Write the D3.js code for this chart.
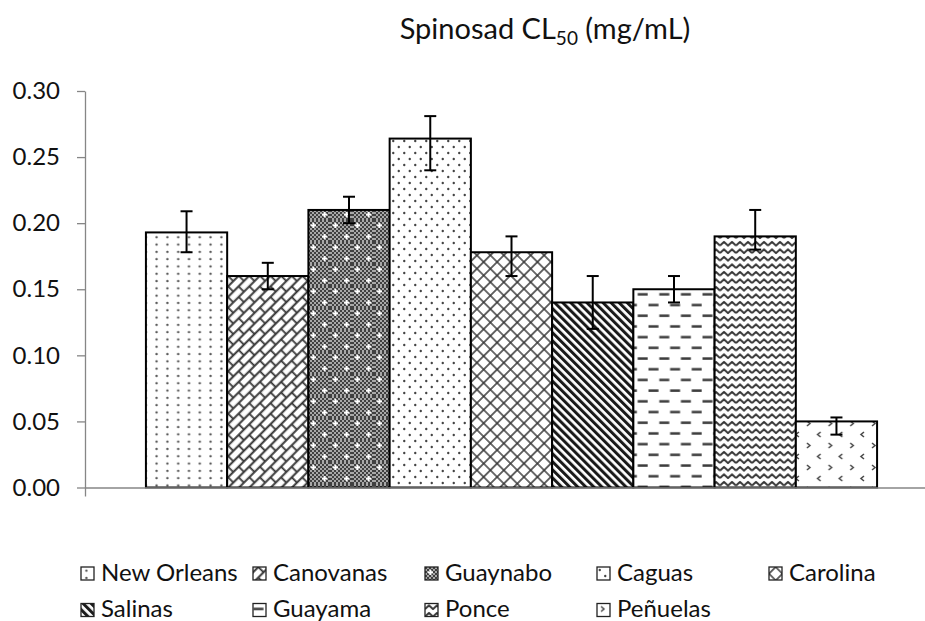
<!DOCTYPE html>
<html lang="en">
<head>
   <meta charset="utf-8">
   <script src="https://cdnjs.cloudflare.com/ajax/libs/d3/7.8.5/d3.min.js"></script>
   <title>Spinosad CL50</title>
   <style>
      body { margin: 0; background: #fff; }
      svg { display: block; font-family: Lato, "Open Sans", sans-serif; }
   </style>
</head>
<body>
   <div id="chart"></div>

   <script type="text/javascript">

      // Values
      var cities = ["New Orleans", "Canovanas", "Guaynabo", "Caguas", "Carolina", "Salinas", "Guayama", "Ponce", "Peñuelas"];
      var lc50 = [0.193, 0.160, 0.210, 0.264, 0.178, 0.140, 0.150, 0.190, 0.050];
      var errPlus = [0.016, 0.010, 0.010, 0.017, 0.012, 0.020, 0.010, 0.020, 0.003];
      var errMinus = [0.015, 0.010, 0.010, 0.024, 0.018, 0.020, 0.010, 0.010, 0.010];
      var yTicks = [0, 0.05, 0.10, 0.15, 0.20, 0.25, 0.30];

      // Fill pattern per city (style only)
      var patternIds = ["pNewOrleans", "pCanovanas", "pGuaynabo", "pCaguas", "pCarolina", "pSalinas", "pGuayama", "pPonce", "pPenuelas"];

      var width = 925, height = 621;
      var plot = { left: 85, right: 938, top: 91, bottom: 487.5 };
      var ink = "#363636";
      var axisGrey = "#868686";

      var svg = d3.select("#chart")
         .append("svg")
         .attr("width", width)
         .attr("height", height);

      var defs = svg.append("defs");

      // Helper to start a pattern tile with a background
      function makePattern(id, w, h, transform, bg) {
         var p = defs.append("pattern")
            .attr("id", id)
            .attr("patternUnits", "userSpaceOnUse")
            .attr("width", w)
            .attr("height", h);
         if (transform) p.attr("patternTransform", transform);
         p.append("rect").attr("width", w).attr("height", h).attr("fill", bg || "#fff");
         return p;
      }

      // New Orleans - sparse dots
      var p = makePattern("pNewOrleans", 10.8, 7.3);
      p.append("circle").attr("cx", 5.4).attr("cy", 3.6).attr("r", 1.2).attr("fill", "#555");

      // Canovanas - diagonal brick
      p = makePattern("pCanovanas", 15, 15, "rotate(-45)");
      p.append("path")
         .attr("d", "M0,3.75H15M0,11.25H15M3.75,3.75V11.25M11.25,11.25V15M11.25,0V3.75")
         .attr("stroke", ink).attr("stroke-width", 1.8).attr("fill", "none");

      // Guaynabo - dark checker with white crosses
      p = makePattern("pChecker", 4, 4, null, "#a8a8a8");
      p.append("rect").attr("width", 2).attr("height", 2).attr("fill", "#404040");
      p.append("rect").attr("x", 2).attr("y", 2).attr("width", 2).attr("height", 2).attr("fill", "#404040");
      p = makePattern("pGuaynabo", 22, 22, null, "url(#pChecker)");
      [[5.5, 5.5], [16.5, 16.5]].forEach(function (c) {
         p.append("rect").attr("x", c[0] - 2.5).attr("y", c[1] - 0.9).attr("width", 5).attr("height", 1.8).attr("fill", "#fff");
         p.append("rect").attr("x", c[0] - 0.9).attr("y", c[1] - 2.5).attr("width", 1.8).attr("height", 5).attr("fill", "#fff");
      });

      // Caguas - denser offset dots
      p = makePattern("pCaguas", 11, 12);
      p.append("circle").attr("cx", 2.75).attr("cy", 3).attr("r", 1.2).attr("fill", "#444");
      p.append("circle").attr("cx", 8.25).attr("cy", 9).attr("r", 1.2).attr("fill", "#444");

      // Carolina - diagonal cross hatch
      p = makePattern("pCarolina", 9.5, 9.5, "rotate(45)");
      p.append("path").attr("d", "M0,4.75H9.5M4.75,0V9.5")
         .attr("stroke", ink).attr("stroke-width", 1.5).attr("fill", "none");

      // Salinas - wide downward diagonal
      p = makePattern("pSalinas", 5.7, 10, "rotate(-45)");
      p.append("rect").attr("width", 3).attr("height", 10).attr("fill", "#1a1a1a");

      // Guayama - dashed horizontal
      p = makePattern("pGuayama", 21.6, 21.4);
      p.append("rect").attr("x", 0.5).attr("y", 4.2).attr("width", 10).attr("height", 2.5).attr("fill", "#3c3c3c");
      p.append("rect").attr("x", 11.3).attr("y", 14.9).attr("width", 10).attr("height", 2.5).attr("fill", "#3c3c3c");

      // Ponce - zigzag waves
      p = makePattern("pPonce", 16, 7.5);
      p.append("path").attr("d", "M0,5.6L4,1.9L8,5.6L12,1.9L16,5.6")
         .attr("stroke", ink).attr("stroke-width", 2).attr("fill", "none").attr("stroke-linejoin", "round");

      // Peñuelas - divots
      p = makePattern("pPenuelas", 21.7, 22);
      p.append("path").attr("d", "M4,3L7,5.5L4,8M17.7,14L14.7,16.5L17.7,19")
         .attr("stroke", "#444").attr("stroke-width", 1.5).attr("fill", "none");

      // Scales
      var x = d3.scaleBand()
         .domain(cities)
         .range([plot.left, plot.right])
         .paddingInner(0)
         .paddingOuter(0.75);

      var y = d3.scaleLinear()
         .domain([0, 0.3])
         .range([plot.bottom, plot.top]);

      // Bars
      svg.selectAll(".bar")
         .data(cities)
         .enter()
         .append("rect")
         .attr("class", "bar")
         .attr("x", d => x(d))
         .attr("y", (d, i) => y(lc50[i]))
         .attr("width", x.bandwidth())
         .attr("height", (d, i) => y(0) - y(lc50[i]))
         .attr("fill", (d, i) => "url(#" + patternIds[i] + ")")
         .attr("stroke", "#000")
         .attr("stroke-width", 2);

      // Error bars
      var capHalf = 6;
      var err = svg.selectAll(".err")
         .data(cities)
         .enter()
         .append("g")
         .attr("class", "err")
         .attr("stroke", "#000")
         .attr("stroke-width", 2);

      err.append("line")
         .attr("x1", d => x(d) + x.bandwidth() / 2)
         .attr("x2", d => x(d) + x.bandwidth() / 2)
         .attr("y1", (d, i) => y(lc50[i] + errPlus[i]))
         .attr("y2", (d, i) => y(lc50[i] - errMinus[i]));
      err.append("line")
         .attr("x1", d => x(d) + x.bandwidth() / 2 - capHalf)
         .attr("x2", d => x(d) + x.bandwidth() / 2 + capHalf)
         .attr("y1", (d, i) => y(lc50[i] + errPlus[i]))
         .attr("y2", (d, i) => y(lc50[i] + errPlus[i]));
      err.append("line")
         .attr("x1", d => x(d) + x.bandwidth() / 2 - capHalf)
         .attr("x2", d => x(d) + x.bandwidth() / 2 + capHalf)
         .attr("y1", (d, i) => y(lc50[i] - errMinus[i]))
         .attr("y2", (d, i) => y(lc50[i] - errMinus[i]));

      // Y axis
      var yAxis = svg.append("g")
         .attr("transform", "translate(" + plot.left + ",0)")
         .call(d3.axisLeft(y)
            .tickValues(yTicks)
            .tickFormat(d3.format(".2f"))
            .tickSize(8)
            .tickSizeOuter(0)
            .tickPadding(17));
      yAxis.selectAll("path, line").attr("stroke", axisGrey).attr("stroke-width", 1.3);
      yAxis.selectAll("text")
         .attr("fill", "#111")
         .style("font-size", "24px")
         .style("font-family", "Lato, sans-serif");

      // X axis (single category, outer ticks only)
      var xEdge = d3.scaleLinear().domain([0, 1]).range([plot.left, plot.right]);
      var xAxis = svg.append("g")
         .attr("transform", "translate(0," + y(0) + ")")
         .call(d3.axisBottom(xEdge).tickValues([0, 1]).tickFormat("").tickSize(9).tickSizeOuter(0));
      xAxis.selectAll("path, line").attr("stroke", axisGrey).attr("stroke-width", 1.3);

      // Title
      var title = svg.append("text")
         .attr("x", 545)
         .attr("y", 39)
         .attr("text-anchor", "middle")
         .attr("fill", "#111")
         .style("font-size", "29px");
      title.append("tspan").text("Spinosad CL");
      title.append("tspan").attr("dy", 6).style("font-size", "19px").text("50");
      title.append("tspan").attr("dy", -6).text(" (mg/mL)");

      // Legend
      var legend = svg.selectAll(".legend")
         .data(cities)
         .enter()
         .append("g")
         .attr("class", "legend")
         .attr("transform", (d, i) => "translate(" + (81 + (i % 5) * 172) + "," + (567 + Math.floor(i / 5) * 36.5) + ")");

      legend.append("rect")
         .attr("width", 13)
         .attr("height", 13)
         .attr("fill", (d, i) => "url(#" + patternIds[i] + ")")
         .attr("stroke", "#222")
         .attr("stroke-width", 1.3);

      legend.append("text")
         .attr("x", 20)
         .attr("y", 13.5)
         .attr("fill", "#111")
         .style("font-size", "24px")
         .text(d => d);

   </script>
</body>
</html>
